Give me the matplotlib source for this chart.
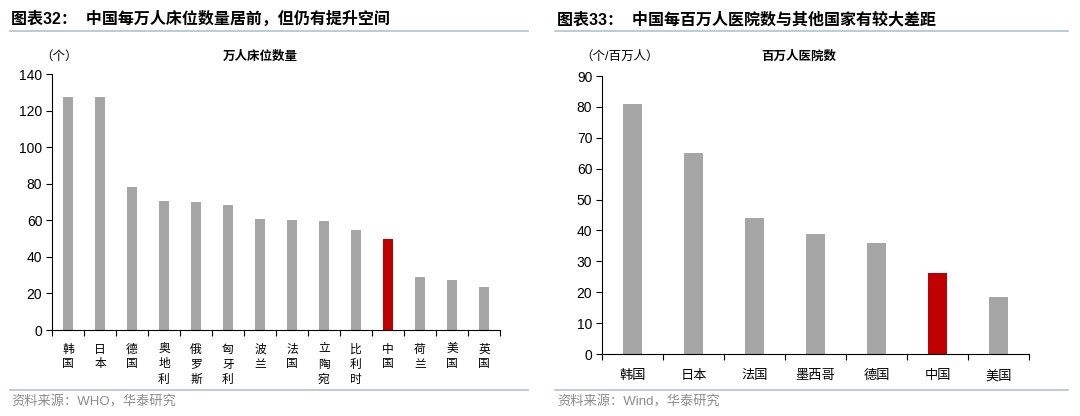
import matplotlib
matplotlib.use("Agg")
import matplotlib.pyplot as plt
from matplotlib.lines import Line2D

plt.rcParams['font.family'] = ['Liberation Sans', 'Noto Sans CJK SC', 'DejaVu Sans']

# data: beds per 10k people
beds_countries = ["韩国", "日本", "德国", "奥地利", "俄罗斯", "匈牙利", "波兰",
                  "法国", "立陶宛", "比利时", "中国", "荷兰", "美国", "英国"]
beds_values = [127.6, 127.3, 78.2, 70.7, 70.2, 68.4, 60.9,
               60.0, 59.5, 54.7, 50.0, 29.1, 27.5, 23.3]

# data: hospitals per million people
hosp_countries = ["韩国", "日本", "法国", "墨西哥", "德国", "中国", "美国"]
hosp_values = [80.9, 65.0, 43.9, 38.9, 35.8, 26.1, 18.3]

GREY = "#A6A6A6"
RED = "#C00000"
RULE = "#AFC2D4"
W, H = 1080, 416


def px_axes(fig, x0, y_top, x1, y_bottom):
    # axes rectangle given in pixel coords (origin top-left)
    return fig.add_axes([x0 / W, (H - y_bottom) / H, (x1 - x0) / W, (y_bottom - y_top) / H])


def style_axes(ax, n, ymax, ystep, labels, xpad, xsize):
    for s in ("top", "right"):
        ax.spines[s].set_visible(False)
    for s in ("left", "bottom"):
        ax.spines[s].set_color("#000000")
        ax.spines[s].set_linewidth(0.8)
    ax.set_xlim(-0.5, n - 0.5)
    ax.set_ylim(0, ymax)
    ax.set_yticks(range(0, ymax + 1, ystep))
    ax.tick_params(axis="y", direction="out", length=4, width=0.8, labelsize=10, pad=3)
    # boundary ticks (major) and centred labels (minor)
    ax.set_xticks([i - 0.5 for i in range(n + 1)])
    ax.set_xticklabels([])
    ax.tick_params(axis="x", which="major", direction="out", length=4, width=0.8)
    ax.set_xticks(range(n), minor=True)
    ax.set_xticklabels(labels, minor=True, fontfamily=["Noto Sans CJK SC"], fontsize=xsize,
                       linespacing=1.2)
    ax.tick_params(axis="x", which="minor", length=0, pad=xpad)


fig = plt.figure(figsize=(W / 100, H / 100), dpi=100)

# ----- left panel -----
ax1 = px_axes(fig, 52, 74, 500, 330)
colors1 = [RED if c == "中国" else GREY for c in beds_countries]
ax1.bar(range(len(beds_values)), beds_values, width=0.3, color=colors1)
style_axes(ax1, len(beds_countries), 140, 20, ["\n".join(c) for c in beds_countries], 9, 8.5)

# ----- right panel -----
ax2 = px_axes(fig, 602, 76, 1029, 354)
colors2 = [RED if c == "中国" else GREY for c in hosp_countries]
ax2.bar(range(len(hosp_values)), hosp_values, width=0.32, color=colors2)
style_axes(ax2, len(hosp_countries), 90, 10, hosp_countries, 11, 9.5)

# ----- headers, rules, notes -----
cjk = ["Liberation Sans", "Noto Sans CJK SC", "DejaVu Sans"]


def ftext(x, y, s, **kw):
    fig.text(x / W, 1 - y / H, s, **kw)


ftext(11, 19, "图表32：  中国每万人床位数量居前，但仍有提升空间", fontsize=11.5,
      fontweight="bold", va="center", ha="left", family=cjk)
ftext(557, 19, "图表33：  中国每百万人医院数与其他国家有较大差距", fontsize=11.5,
      fontweight="bold", va="center", ha="left", family=cjk)

for x0, x1 in ((10, 528), (555, 1068)):
    for y in (31, 390):
        fig.add_artist(Line2D([x0 / W, x1 / W], [1 - y / H, 1 - y / H],
                              color=RULE, linewidth=1.2, transform=fig.transFigure))

ftext(40, 57, "（个）", fontsize=9, va="center", ha="left", family=cjk)
ftext(260, 57, "万人床位数量", fontsize=9, fontweight="bold", va="center", ha="center", family=cjk)
ftext(580, 57, "（个/百万人）", fontsize=9, va="center", ha="left", family=cjk)
ftext(799, 57, "百万人医院数", fontsize=9, fontweight="bold", va="center", ha="center", family=cjk)

ftext(11, 402, "资料来源：WHO，华泰研究", fontsize=9.5, color="#8C8C8C", va="center",
      ha="left", family=cjk)
ftext(557, 402, "资料来源：Wind，华泰研究", fontsize=9.5, color="#8C8C8C", va="center",
      ha="left", family=cjk)

fig.savefig("out.png", dpi=100)
